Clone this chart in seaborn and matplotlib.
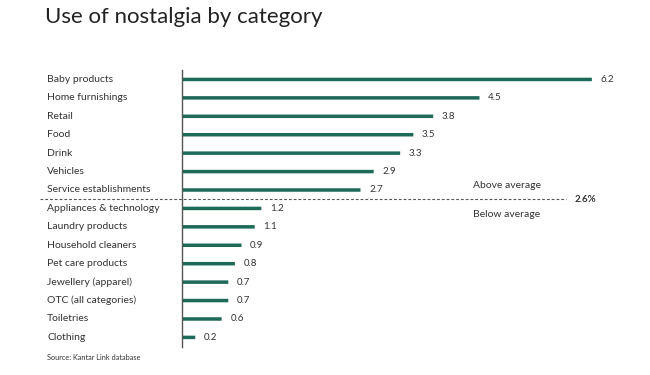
import numpy as np
import pandas as pd
import matplotlib
matplotlib.use("Agg")
import matplotlib.pyplot as plt
import matplotlib.transforms as mtransforms
import seaborn as sns

# data
categories = ["Baby products", "Home furnishings", "Retail", "Food", "Drink",
              "Vehicles", "Service establishments", "Appliances & technology",
              "Laundry products", "Household cleaners", "Pet care products",
              "Jewellery (apparel)", "OTC (all categories)", "Toiletries", "Clothing"]
values = [6.2, 4.5, 3.8, 3.5, 3.3, 2.9, 2.7, 1.2, 1.1, 0.9, 0.8, 0.7, 0.7, 0.6, 0.2]
average = 2.6

df = pd.DataFrame({"category": categories, "value": values})

sns.set_theme(style="white")
plt.rcParams["font.family"] = ["Lato", "DejaVu Sans"]

bar_color = "#1d6a58"
text_color = "#333333"

fig = plt.figure(figsize=(6.5, 3.75), dpi=100)
ax = fig.add_axes([0.28, 0.0757, 0.6916, 0.737])

sns.barplot(data=df, x="value", y="category", orient="h", color=bar_color,
            width=0.19, saturation=1, linewidth=0, ax=ax)
for p in ax.patches:
    p.set_snap(False)

ax.set_xlim(0, 6.8)
ax.set_ylim(len(categories) - 0.5, -0.5)
ax.set_xlabel("")
ax.set_ylabel("")
ax.set_xticks([])
ax.set_yticks([])
for s in ["top", "right", "bottom"]:
    ax.spines[s].set_visible(False)
ax.spines["left"].set_color("#555555")
ax.spines["left"].set_linewidth(1.0)

# category labels, left aligned
trans = mtransforms.blended_transform_factory(fig.transFigure, ax.transData)
for i, (cat, v) in enumerate(zip(categories, values)):
    ax.text(47 / 650, i, cat, transform=trans, ha="left", va="center",
            fontsize=7.5, color=text_color)
    ax.text(v + 0.13, i, f"{v:.1f}", ha="left", va="center",
            fontsize=7, color=text_color)

# average line
split = 6.5
ax.plot([40 / 650, 566 / 650], [split, split], transform=trans, clip_on=False,
        color="#555555", lw=0.8, ls=(0, (2.5, 1.8)))
ax.text(575 / 650, split, f"{average}%", transform=trans, ha="left", va="center",
        fontsize=7, color=text_color, fontweight="bold")
ax.text(473 / 650, split - 0.75, "Above average", transform=trans, ha="left",
        va="center", fontsize=7.5, color=text_color)
ax.text(473 / 650, split + 0.85, "Below average", transform=trans, ha="left",
        va="center", fontsize=7.5, color=text_color)

fig.text(45 / 650, 1 - 17 / 375, "Use of nostalgia by category", ha="left",
         va="center", fontsize=16, color="#222222")
fig.text(47 / 650, 1 - 357 / 375, "Source: Kantar Link database", ha="left",
         va="center", fontsize=5.3, color=text_color)

fig.savefig("out.png", dpi=100)
